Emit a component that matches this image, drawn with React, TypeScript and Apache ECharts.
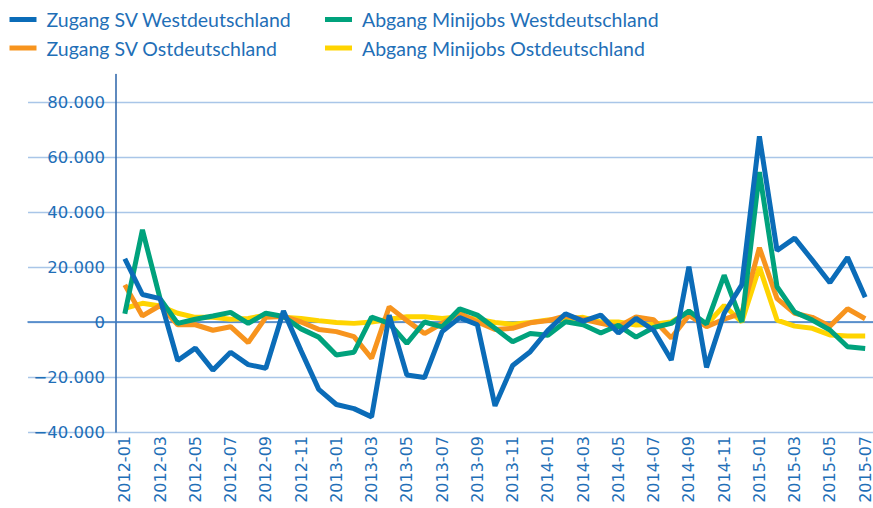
import React, { useEffect, useRef } from "react";
import * as echarts from "echarts";

const categories = [
  "2012-01", "2012-02", "2012-03", "2012-04", "2012-05", "2012-06", "2012-07", "2012-08", "2012-09", "2012-10", "2012-11", "2012-12",
  "2013-01", "2013-02", "2013-03", "2013-04", "2013-05", "2013-06", "2013-07", "2013-08", "2013-09", "2013-10", "2013-11", "2013-12",
  "2014-01", "2014-02", "2014-03", "2014-04", "2014-05", "2014-06", "2014-07", "2014-08", "2014-09", "2014-10", "2014-11", "2014-12",
  "2015-01", "2015-02", "2015-03", "2015-04", "2015-05", "2015-06", "2015-07",
];

const zugangWest = [
  23000, 10000, 8500, -14000, -9500, -17500, -11000, -15500, -16800, 4000, -10500, -24500,
  -30000, -31500, -34500, 2500, -19300, -20200, -3500, 1600, -1000, -30500, -15800, -10800,
  -3000, 3000, 300, 2500, -4000, 1300, -3000, -13800, 20100, -16500, 3200, 13500,
  67500, 26000, 30500, 22500, 14300, 23500, 9000,
];

const abgangWest = [
  3000, 33500, 8500, -500, 1000, 2200, 3500, -500, 3200, 2000, -2500, -5500,
  -12000, -11000, 1800, -500, -7800, 0, -1800, 4800, 2500, -2300, -7200, -4200,
  -4800, 100, -1000, -4000, -1200, -5500, -2000, -500, 4000, -700, 17000, 0,
  54500, 12800, 3600, 700, -2900, -9000, -9600,
];

const zugangOst = [
  13500, 2200, 6000, -1000, -1000, -3000, -1700, -7500, 1700, 2000, 0, -2700,
  -3500, -5300, -13200, 5500, 500, -4200, -500, 3200, 0, -2700, -2300, -300,
  500, 2200, 1000, -500, -1700, 1800, 800, -5800, 2500, -1700, 1000, 3200,
  27000, 8500, 3200, 1700, -1500, 4800, 1200,
];

const abgangOst = [
  5000, 6800, 5800, 3200, 1700, 1700, 1000, 1300, 2500, 1700, 1300, 500,
  -200, -500, 0, 1000, 1900, 1900, 1300, 1900, 1000, -200, -800, -200,
  700, 1000, 1700, 0, 0, -1100, -800, 0, 3700, -1000, 6000, 0,
  20000, 700, -1500, -2300, -4700, -5100, -5100,
];

const NAMES = {
  zw: "Zugang SV Westdeutschland",
  aw: "Abgang Minijobs Westdeutschland",
  zo: "Zugang SV Ostdeutschland",
  ao: "Abgang Minijobs Ostdeutschland",
};

const COLORS = {
  zw: "#0b6cb8",
  aw: "#00a27c",
  zo: "#f7941e",
  ao: "#ffd400",
};

const TEXT = "#1f6fb7";
const Y_MIN = -40000;
const Y_MAX = 90000;
const Y_STEP = 20000;

function fmt(v: number): string {
  if (v === 0) return "0";
  const s = String(Math.abs(v)).replace(/\B(?=(\d{3})+(?!\d))/g, ".");
  return (v < 0 ? "\u2212" : "") + s;
}

export default function App() {
  const ref = useRef<HTMLDivElement>(null);
  useEffect(() => {
    if (!ref.current) return;
    const chart = echarts.init(ref.current, undefined, { renderer: "svg" });
    const legendBase = {
      icon: "rect",
      itemWidth: 27,
      itemHeight: 5,
      padding: 0,
      selectedMode: false,
      textStyle: { color: TEXT, fontSize: 19.5, fontFamily: "Lato", padding: [0, 0, 0, 5] },
    };
    const grid = { top: 74.5, bottom: 76, outerBoundsMode: "none", containLabel: false };
    chart.setOption({
      animation: false,
      legend: [
        { ...legendBase, data: [NAMES.zw], left: 9.5, top: 9.5 },
        { ...legendBase, data: [NAMES.aw], left: 325, top: 9.5 },
        { ...legendBase, data: [NAMES.zo], left: 9.5, top: 38 },
        { ...legendBase, data: [NAMES.ao], left: 325, top: 38 },
      ],
      grid: [
        { ...grid, left: 116, right: -1 },
        { ...grid, left: 28, right: 0 },
      ],
      xAxis: [
        {
          type: "category",
          gridIndex: 0,
          data: categories,
          boundaryGap: true,
          axisLine: { show: false, onZero: false },
          axisTick: { show: false },
          splitLine: { show: false },
          axisLabel: {
            rotate: 90,
            interval: 1,
            margin: 4,
            color: TEXT,
            fontSize: 16,
            fontFamily: "DejaVu Sans",
          },
        },
        {
          type: "value",
          gridIndex: 1,
          min: 0,
          max: 1,
          axisLabel: { show: false },
          axisTick: { show: false },
          splitLine: { show: false },
          axisLine: { show: true, onZero: true, lineStyle: { color: "#3f7cc2", width: 1.5 } },
        },
      ],
      yAxis: [
        {
          type: "value",
          gridIndex: 0,
          min: Y_MIN,
          max: Y_MAX,
          interval: Y_STEP,
          splitLine: { show: false },
          axisTick: { show: false },
          axisLine: { show: true, lineStyle: { color: "#2a63a8", width: 1.5 } },
          axisLabel: {
            showMaxLabel: false,
            margin: 11,
            color: TEXT,
            fontSize: 16.5,
            fontFamily: "DejaVu Sans",
            formatter: (v: number) => fmt(v),
          },
        },
        {
          type: "value",
          gridIndex: 1,
          min: Y_MIN,
          max: Y_MAX,
          interval: Y_STEP,
          axisLabel: { show: false },
          axisTick: { show: false },
          axisLine: { show: false },
          splitLine: {
            show: true,
            showMaxLine: false,
            lineStyle: { color: "#a9c6e8", width: 1.3 },
          },
        },
      ],
      series: [
        { type: "line", xAxisIndex: 1, yAxisIndex: 1, data: [], silent: true },
        {
          name: NAMES.ao, type: "line", data: abgangOst, symbol: "none",
          itemStyle: { color: COLORS.ao }, lineStyle: { color: COLORS.ao, width: 5 },
        },
        {
          name: NAMES.zo, type: "line", data: zugangOst, symbol: "none",
          itemStyle: { color: COLORS.zo }, lineStyle: { color: COLORS.zo, width: 5 },
        },
        {
          name: NAMES.aw, type: "line", data: abgangWest, symbol: "none",
          itemStyle: { color: COLORS.aw }, lineStyle: { color: COLORS.aw, width: 5 },
        },
        {
          name: NAMES.zw, type: "line", data: zugangWest, symbol: "none",
          itemStyle: { color: COLORS.zw }, lineStyle: { color: COLORS.zw, width: 5 },
        },
      ],
    });
    return () => chart.dispose();
  }, []);
  return (
    <div
      ref={ref}
      style={{ position: "fixed", left: 0, top: 0, width: 873, height: 508, background: "#fff" }}
    />
  );
}
